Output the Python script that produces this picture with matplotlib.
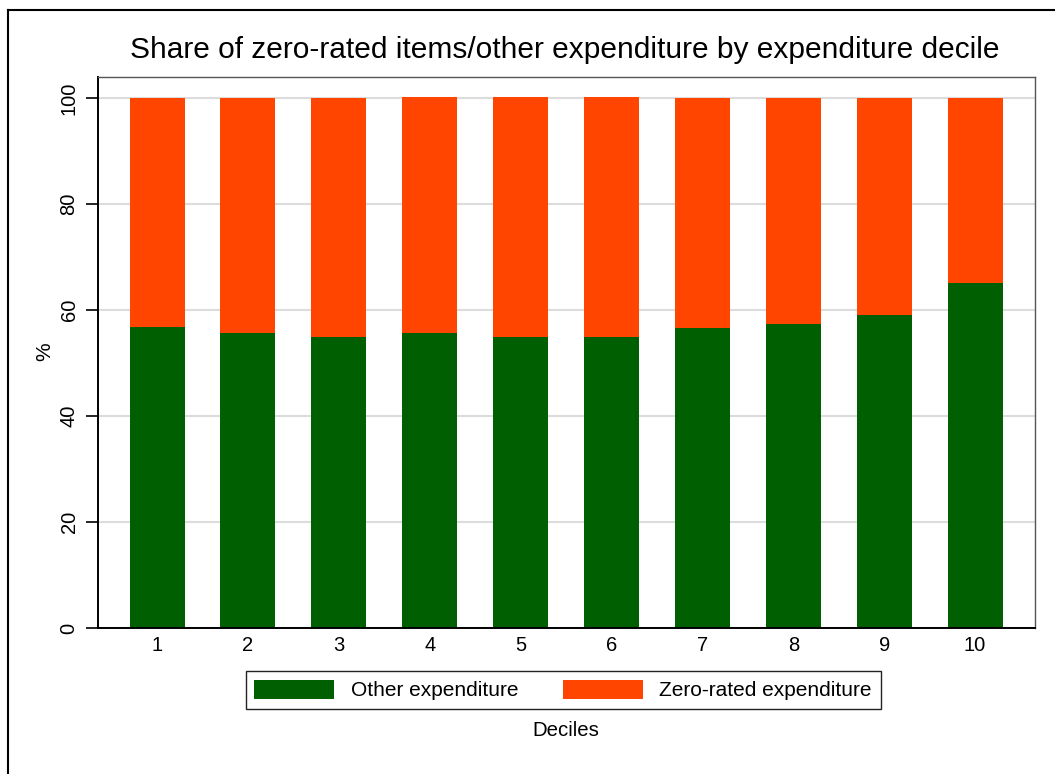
import matplotlib
matplotlib.use("Agg")
import matplotlib.pyplot as plt
from matplotlib.patches import Patch
from matplotlib.lines import Line2D

plt.rcParams['font.family'] = ['Liberation Sans', 'DejaVu Sans']

deciles = [1, 2, 3, 4, 5, 6, 7, 8, 9, 10]
other_exp = [56.8, 55.7, 54.9, 55.7, 54.9, 54.9, 56.6, 57.4, 59.1, 65.1]
zero_rated = [43.2, 44.3, 45.1, 44.5, 45.3, 45.3, 43.4, 42.6, 40.9, 34.9]
xtick_labels = [str(d) for d in deciles]
ytick_vals = [0, 20, 40, 60, 80, 100]

GREEN = '#005f00'
ORANGE = '#ff4500'

W, H = 1055, 774
fig = plt.figure(figsize=(W / 100, H / 100), dpi=100)
ax = fig.add_axes([98 / W, 1 - 628 / H, (1035 - 98) / W, (628 - 77) / H])

ax.bar(deciles, other_exp, width=0.605, color=GREEN, zorder=2)
ax.bar(deciles, zero_rated, bottom=other_exp, width=0.605, color=ORANGE, zorder=2)

ax.set_xlim(0.35, 10.66)
ax.set_ylim(0, 104)
ax.set_yticks(ytick_vals)
ax.set_yticklabels([str(v) for v in ytick_vals], rotation=90, va='center')
ax.set_xticks(deciles)
ax.set_xticklabels(xtick_labels)
ax.tick_params(axis='y', length=9, width=1.2, pad=5, labelsize=14.5)
ax.tick_params(axis='x', length=0, pad=6, labelsize=14.5)
ax.grid(axis='y', color='#dcdcdc', linewidth=1.5, zorder=0)
ax.set_axisbelow(True)

for s in ['left', 'bottom']:
    ax.spines[s].set_color('black')
    ax.spines[s].set_linewidth(1.4)
for s in ['top', 'right']:
    ax.spines[s].set_color('#555555')
    ax.spines[s].set_linewidth(1.0)

fig.text(565 / W, 1 - 50 / H, 'Share of zero-rated items/other expenditure by expenditure decile',
         ha='center', va='center', fontsize=21.5)
fig.text(45 / W, 1 - 352 / H, '%', rotation=90, ha='center', va='center', fontsize=15)
fig.text(566 / W, 1 - 731 / H, 'Deciles', ha='center', va='center', fontsize=14.7)

handles = [Patch(facecolor=GREEN, edgecolor='none'), Patch(facecolor=ORANGE, edgecolor='none')]
leg = fig.legend(handles, ['Other expenditure', 'Zero-rated expenditure'],
                 loc='center', bbox_to_anchor=(563 / W, 1 - 690 / H), ncol=2,
                 fontsize=15, handlelength=3.85, handleheight=1.06, handletextpad=0.77,
                 columnspacing=2.16, fancybox=False, framealpha=1, borderpad=0.42,
                 borderaxespad=0)
leg.get_frame().set_edgecolor('#222222')
leg.get_frame().set_linewidth(1.0)

# outer frame
fig.add_artist(Line2D([8 / W, 8 / W], [1 - 10 / H, 0], transform=fig.transFigure, color='black', lw=1.5))
fig.add_artist(Line2D([8 / W, 1], [1 - 10 / H, 1 - 10 / H], transform=fig.transFigure, color='black', lw=1.5))

fig.savefig('out.png', dpi=100)
